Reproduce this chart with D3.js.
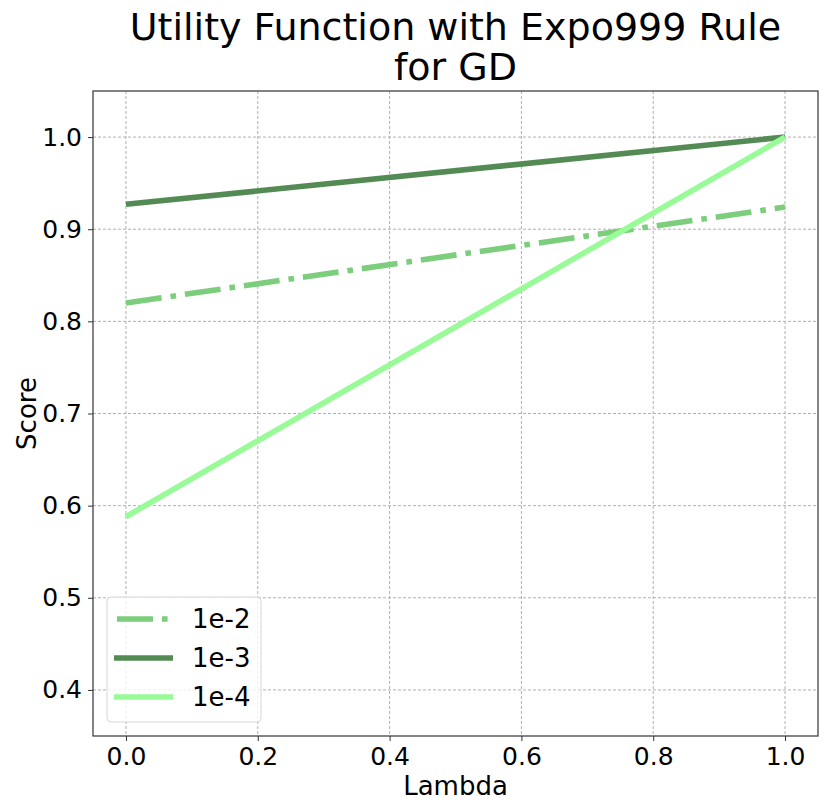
<!DOCTYPE html>
<html>
<head>
<meta charset="utf-8">
<script src="https://cdnjs.cloudflare.com/ajax/libs/d3/7.8.5/d3.min.js"></script>
<style>
body { margin: 0; background: #fff; }
text { font-family: "DejaVu Sans", sans-serif; }
</style>
</head>
<body>
<div class="chart"></div>
<script>
// data
var lambdas = [0.0, 1.0];
var seriesNames = ['1e-2', '1e-3', '1e-4'];
var values1e2 = [0.820, 0.924];
var values1e3 = [0.927, 1.000];
var values1e4 = [0.588, 1.000];
var xTicks = [0.0, 0.2, 0.4, 0.6, 0.8, 1.0];
var yTicks = [0.4, 0.5, 0.6, 0.7, 0.8, 0.9, 1.0];

var colors = ['#7ccd7c', '#548b54', '#98fb98'];
var dashes = ['36,9,5.6,9', null, null];

var series = [values1e2, values1e3, values1e4].map(function(v, i){
    return {name: seriesNames[i], color: colors[i], dash: dashes[i],
        values: v.map(function(d, j){ return {x: lambdas[j], y: d}; })};
});

var W = 830, H = 811;
var mLeft = 93, mRight = 818, mTop = 91, mBottom = 736;

var x = d3.scaleLinear().domain([-0.05, 1.05]).range([mLeft, mRight]);
var y = d3.scaleLinear().domain([0.35, 1.05]).range([mBottom, mTop]);

var svg = d3.select('div.chart').append('svg')
    .attr('width', W).attr('height', H);

// grid
svg.append('g').selectAll('line').data(xTicks).enter().append('line')
    .attr('x1', function(d){ return x(d); }).attr('x2', function(d){ return x(d); })
    .attr('y1', mTop).attr('y2', mBottom)
    .attr('stroke', '#b0b0b0').attr('stroke-width', 1).attr('stroke-dasharray', '3,2');
svg.append('g').selectAll('line').data(yTicks).enter().append('line')
    .attr('y1', function(d){ return y(d); }).attr('y2', function(d){ return y(d); })
    .attr('x1', mLeft).attr('x2', mRight)
    .attr('stroke', '#b0b0b0').attr('stroke-width', 1).attr('stroke-dasharray', '3,2');

// lines
var line = d3.line()
    .x(function(d){ return x(d.x); })
    .y(function(d){ return y(d.y); });

svg.append('g').selectAll('path').data(series).enter().append('path')
    .attr('d', function(d){ return line(d.values); })
    .attr('fill', 'none')
    .attr('stroke', function(d){ return d.color; })
    .attr('stroke-width', 5.6)
    .attr('stroke-dasharray', function(d){ return d.dash; });

// axes
var xAxis = d3.axisBottom(x).tickValues(xTicks).tickFormat(d3.format('.1f')).tickSize(5).tickPadding(6);
var yAxis = d3.axisLeft(y).tickValues(yTicks).tickFormat(d3.format('.1f')).tickSize(5).tickPadding(6);

svg.append('g').attr('class', 'x-axis')
    .attr('transform', 'translate(0,' + mBottom + ')')
    .call(xAxis);
svg.append('g').attr('class', 'y-axis')
    .attr('transform', 'translate(' + mLeft + ',0)')
    .call(yAxis);

svg.selectAll('.x-axis .domain, .y-axis .domain').remove();
svg.selectAll('.tick line').attr('stroke', '#333');
svg.selectAll('.tick text').attr('font-size', 25).attr('fill', '#000')
    .attr('font-family', '"DejaVu Sans", sans-serif');

// frame
svg.append('rect')
    .attr('x', mLeft).attr('y', mTop)
    .attr('width', mRight - mLeft).attr('height', mBottom - mTop)
    .attr('fill', 'none').attr('stroke', '#333').attr('stroke-width', 1.2);

// labels
svg.append('text').attr('x', (mLeft + mRight) / 2).attr('y', 795)
    .attr('text-anchor', 'middle').attr('font-size', 26).text('Lambda');
svg.append('text').attr('transform', 'translate(36,' + ((mTop + mBottom) / 2) + ') rotate(-90)')
    .attr('text-anchor', 'middle').attr('font-size', 26).text('Score');

svg.append('text').attr('x', (mLeft + mRight) / 2).attr('y', 40)
    .attr('text-anchor', 'middle').attr('font-size', 38).text('Utility Function with Expo999 Rule');
svg.append('text').attr('x', (mLeft + mRight) / 2).attr('y', 80)
    .attr('text-anchor', 'middle').attr('font-size', 38).text('for GD');

// legend
var legend = svg.append('g');
legend.append('rect')
    .attr('x', 107).attr('y', 597).attr('width', 154).attr('height', 125)
    .attr('rx', 4).attr('fill', 'rgba(255,255,255,0.8)')
    .attr('stroke', '#d6d6d6').attr('stroke-width', 1);

var items = legend.selectAll('g').data(series).enter().append('g')
    .attr('transform', function(d, i){ return 'translate(0,' + (619 + i * 39) + ')'; });
items.append('line')
    .attr('x1', 114).attr('x2', 173).attr('y1', 0).attr('y2', 0)
    .attr('stroke', function(d){ return d.color; })
    .attr('stroke-width', 5.6)
    .attr('stroke-dasharray', function(d){ return d.dash; })
    .attr('stroke-dashoffset', function(d){ return d.dash ? -3 : null; });
items.append('text')
    .attr('x', 192).attr('y', 9)
    .attr('font-size', 26).text(function(d){ return d.name; });
</script>
</body>
</html>
